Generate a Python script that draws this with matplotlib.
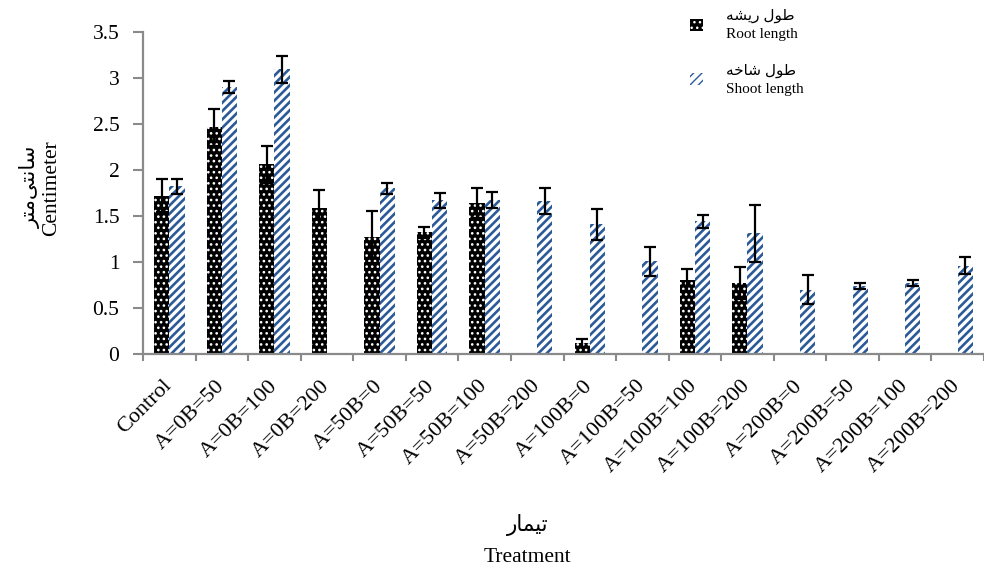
import numpy as np
import matplotlib
matplotlib.use("Agg")
import matplotlib.pyplot as plt

plt.rcParams['font.family'] = ['Liberation Serif', 'DejaVu Sans']

# data
categories = ['Control', 'A=0B=50', 'A=0B=100', 'A=0B=200', 'A=50B=0', 'A=50B=50',
              'A=50B=100', 'A=50B=200', 'A=100B=0', 'A=100B=50', 'A=100B=100',
              'A=100B=200', 'A=200B=0', 'A=200B=50', 'A=200B=100', 'A=200B=200']
root = [1.72, 2.46, 2.06, 1.59, 1.27, 1.32, 1.64, 0, 0.12, 0, 0.80, 0.77, 0, 0, 0, 0]
root_err = [0.18, 0.20, 0.20, 0.19, 0.28, 0.06, 0.16, 0, 0.04, 0, 0.12, 0.17, 0, 0, 0, 0]
shoot = [1.82, 2.90, 3.09, 0, 1.80, 1.67, 1.675, 1.66, 1.41, 1.005, 1.44, 1.31,
         0.70, 0.74, 0.77, 0.96]
shoot_err = [0.08, 0.07, 0.145, 0, 0.06, 0.08, 0.085, 0.145, 0.17, 0.16, 0.07, 0.31,
             0.16, 0.033, 0.036, 0.095]
yticks = [0, 0.5, 1, 1.5, 2, 2.5, 3, 3.5]

# persian text as presentation forms in visual order (no shaping engine here)
root_fa = '\ufeea\ufeb8\ufef3\ufead \ufedd\ufeee\ufec3'
shoot_fa = '\ufeea\ufea7\ufe8e\ufeb7 \ufedd\ufeee\ufec3'
ylabel_fa = '\ufeae\ufe98\ufee3\ufef0\ufe98\ufee7\ufe8e\ufeb3'
xlabel_fa = '\ufead\ufe8e\ufee4\ufef4\ufe97'

blue = '#2b5a98'
grey = '#8a8a8a'

fig = plt.figure(figsize=(9.84, 5.71), dpi=100)
ax = fig.add_axes([143 / 984, 1 - 354 / 571, 1 - 143 / 984, (354 - 31.7) / 571])

x = np.arange(len(categories))
w = 0.29
with plt.rc_context({'hatch.linewidth': 1.1}):
    b1 = ax.bar(x - w / 2, root, w, color='black', edgecolor='white', hatch='...',
                linewidth=0, label=root_fa + '\nRoot length', zorder=2)
with plt.rc_context({'hatch.linewidth': 1.9}):
    b2 = ax.bar(x + w / 2, shoot, w, color='white', edgecolor=blue, hatch='////',
                linewidth=0, label=shoot_fa + '\nShoot length', zorder=2)
for bars, lw in [(b1, 1.1), (b2, 1.9)]:
    for p in bars:
        if hasattr(p, 'set_hatch_linewidth'):
            p.set_hatch_linewidth(lw)

r = np.array(root)
re = np.array(root_err)
s = np.array(shoot)
se = np.array(shoot_err)
m1 = re > 0
m2 = se > 0
ax.errorbar(x[m1] - w / 2, r[m1], yerr=re[m1], fmt='none', ecolor='black',
            elinewidth=1.6, capsize=4, capthick=1.6, zorder=3)
ax.errorbar(x[m2] + w / 2, s[m2], yerr=se[m2], fmt='none', ecolor='black',
            elinewidth=1.6, capsize=4, capthick=1.6, zorder=3)

ax.set_ylim(0, 3.5)
ax.set_xlim(-0.5, -0.5 + 841 / 52.93)
ax.set_yticks(yticks)
ax.set_yticklabels([f'{v:g}' for v in yticks], fontsize=15.5)
ax.set_xticks(x)
ax.set_xticklabels(categories, rotation=45, ha='right', va='center',
                   rotation_mode='anchor', fontsize=16)
ax.set_xticks(np.arange(-0.5, len(categories), 1), minor=True)
ax.tick_params(axis='x', which='major', length=0, pad=21)
ax.tick_params(axis='x', which='minor', length=5, width=1.5, color=grey)
ax.tick_params(axis='y', length=7, width=1.5, color=grey, pad=10)

for side in ['top', 'right']:
    ax.spines[side].set_visible(False)
for side in ['left', 'bottom']:
    ax.spines[side].set_color(grey)
    ax.spines[side].set_linewidth(1.6)

# axis titles, persian line above english
fig.text(30 / 984, 1 - 187 / 571, ylabel_fa, rotation=90, ha='center', va='center',
         fontsize=15, family=['DejaVu Sans'])
fig.text(52 / 984, 1 - 188 / 571, 'Centimeter', rotation=90, ha='center', va='center',
         fontsize=15.5)
fig.text(528 / 984, 1 - 525 / 571, xlabel_fa, ha='center', va='center',
         fontsize=15.5, family=['DejaVu Sans'])
fig.text(527.5 / 984, 1 - 557 / 571, 'Treatment', ha='center', va='center',
         fontsize=15.5)

leg = ax.legend(handles=[b1, b2], loc='upper left', bbox_to_anchor=(681 / 984, 1.0),
                bbox_transform=fig.transFigure, frameon=False, fontsize=11,
                handlelength=0.85, handleheight=0.85, handletextpad=1.5,
                labelspacing=1.45, borderpad=0.1)
for t in leg.get_texts():
    t.set_linespacing(1.5)

fig.savefig('out.png', dpi=100)
